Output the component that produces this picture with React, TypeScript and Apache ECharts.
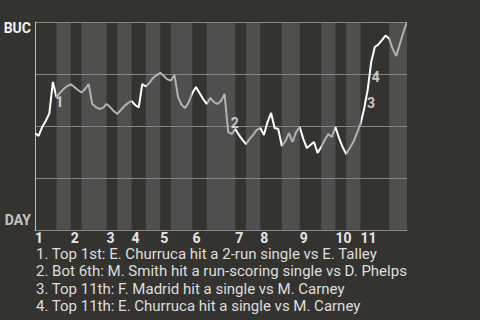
import React, { useEffect, useRef } from "react";
import * as echarts from "echarts";

// ---- data ----
const teams = ["BUC", "DAY"];
const innings = ["1", "2", "3", "4", "5", "6", "7", "8", "9", "10", "11"];
// plate appearances per half-inning (top 1, bot 1, top 2, ...)
const halfInningPAs = [6, 4, 3, 7, 3, 4, 4, 4, 3, 6, 4, 8, 3, 4, 6, 5, 6, 4, 3, 4, 8, 5];
// half-innings whose line is drawn bright
const highlightedHalves = [
  true, false, false, false, false, false, true, false, false, false, true,
  false, true, false, true, false, true, false, true, false, true, false,
];
// BUC win probability after each plate appearance
const winProb = [
  0.466, 0.452, 0.495, 0.524, 0.56, 0.712, 0.639, 0.659, 0.678, 0.692,
  0.7, 0.688, 0.673, 0.661, 0.678, 0.702, 0.606, 0.591, 0.582, 0.587,
  0.606, 0.591, 0.572, 0.558, 0.577, 0.596, 0.611, 0.62, 0.601, 0.589,
  0.702, 0.69, 0.707, 0.731, 0.745, 0.756, 0.74, 0.724, 0.719, 0.745,
  0.639, 0.601, 0.587, 0.615, 0.659, 0.688, 0.659, 0.63, 0.606, 0.635,
  0.615, 0.606, 0.62, 0.654, 0.471, 0.462, 0.486, 0.457, 0.433, 0.413,
  0.438, 0.457, 0.481, 0.49, 0.457, 0.519, 0.563, 0.49, 0.486, 0.404,
  0.428, 0.466, 0.423, 0.471, 0.495, 0.438, 0.394, 0.409, 0.423, 0.37,
  0.399, 0.433, 0.462, 0.447, 0.495, 0.442, 0.399, 0.365, 0.394, 0.423,
  0.466, 0.51, 0.582, 0.673, 0.808, 0.88, 0.892, 0.913, 0.935, 0.921,
  0.87, 0.837, 0.894, 0.952, 1.0,
];
const eventIndex = [6, 55, 92, 93];
const eventDescriptions = [
  "1. Top 1st: E. Churruca hit a 2-run single vs E. Talley",
  "2. Bot 6th: M. Smith hit a run-scoring single vs D. Phelps",
  "3. Top 11th: F. Madrid hit a single vs M. Carney",
  "4. Top 11th: E. Churruca hit a single vs M. Carney",
];

// ---- styles ----
const BG = "#353330";
const BAND = "#504f4d";
const BRIGHT = "#ffffff";
const DIM = "#b2b2b2";
const eventLabelOffsets = [[3, 5], [3, -11], [7, -6], [8, -13]];

export default function App() {
  const ref = useRef<HTMLDivElement>(null);
  useEffect(() => {
    if (!ref.current) return;
    const chart = echarts.init(ref.current, null, { renderer: "svg" });

    const bounds: number[] = [0];
    halfInningPAs.forEach((n) => bounds.push(bounds[bounds.length - 1] + n));
    const maxX = bounds[bounds.length - 1];
    const inningStarts = innings.map((_, k) => bounds[2 * k]);

    const bands: any[] = [];
    for (let k = 1; k < halfInningPAs.length; k += 2) {
      bands.push([{ xAxis: bounds[k] }, { xAxis: bounds[k + 1] }]);
    }
    const pieces = halfInningPAs.map((_, k) => {
      const p: any = { gte: bounds[k], color: highlightedHalves[k] ? BRIGHT : DIM };
      if (k < halfInningPAs.length - 1) p.lt = bounds[k + 1];
      else p.lte = bounds[k + 1];
      return p;
    });
    const lineData = winProb.map((v, i) => [i, v]);

    const font = "Roboto, 'Noto Sans', sans-serif";

    chart.setOption({
      animation: false,
      backgroundColor: BG,
      grid: { left: 35, right: 73, top: 22, bottom: 90 },
      xAxis: {
        type: "value",
        min: 0,
        max: maxX,
        splitLine: { show: false },
        axisTick: { show: false },
        axisLine: { show: true, lineStyle: { color: "#bdbdbd", width: 1 } },
        axisLabel: {
          customValues: inningStarts,
          formatter: (v: number) => innings[inningStarts.indexOf(v)] ?? "",
          align: "left",
          margin: 1,
          color: "#e6e6e6",
          fontWeight: "bold",
          fontSize: 14,
          fontFamily: font,
          padding: [0, 0, 0, 0],
        },
      },
      yAxis: {
        type: "value",
        min: 0,
        max: 1,
        interval: 0.25,
        z: 3,
        axisLine: { show: true, lineStyle: { color: "#bdbdbd", width: 1 } },
        axisTick: { show: false },
        axisLabel: { show: false },
        splitLine: { lineStyle: { color: "#858585", width: 1 } },
      },
      visualMap: {
        type: "piecewise",
        show: false,
        dimension: 0,
        seriesIndex: 1,
        pieces,
      },
      series: [
        {
          type: "line",
          z: 1,
          silent: true,
          data: [],
          markArea: {
            silent: true,
            itemStyle: { color: BAND },
            data: bands,
          },
        },
        {
          type: "line",
          z: 5,
          data: lineData,
          showSymbol: false,
          symbol: "none",
          lineStyle: { width: 2 },
        },
        {
          type: "scatter",
          z: 6,
          symbolSize: 0,
          data: eventIndex.map((idx, k) => ({
            value: [idx, winProb[idx]],
            label: {
              show: true,
              position: "inside",
              offset: eventLabelOffsets[k],
              formatter: String(k + 1),
              color: "#eeeeee",
              fontWeight: "bold",
              fontSize: 14,
              fontFamily: font,
            },
          })),
        },
      ],
      graphic: [
        {
          type: "text",
          x: 31,
          y: 28,
          style: {
            text: teams[0],
            fill: "#f2f2f2",
            font: `bold 14px ${font}`,
            align: "right",
            verticalAlign: "middle",
          },
        },
        {
          type: "text",
          x: 31,
          y: 219.5,
          style: {
            text: teams[1],
            fill: "#c4c4c4",
            font: `bold 14px ${font}`,
            align: "right",
            verticalAlign: "middle",
          },
        },
        ...eventDescriptions.map((t, k) => ({
          type: "text",
          x: 36,
          y: 253.5 + k * 17.6,
          style: {
            text: t,
            fill: "#dedede",
            font: `15px ${font}`,
            verticalAlign: "middle",
          },
        })),
      ],
    });
    return () => chart.dispose();
  }, []);
  return (
    <div
      ref={ref}
      style={{ position: "fixed", left: 0, top: 0, width: 480, height: 320 }}
    />
  );
}
